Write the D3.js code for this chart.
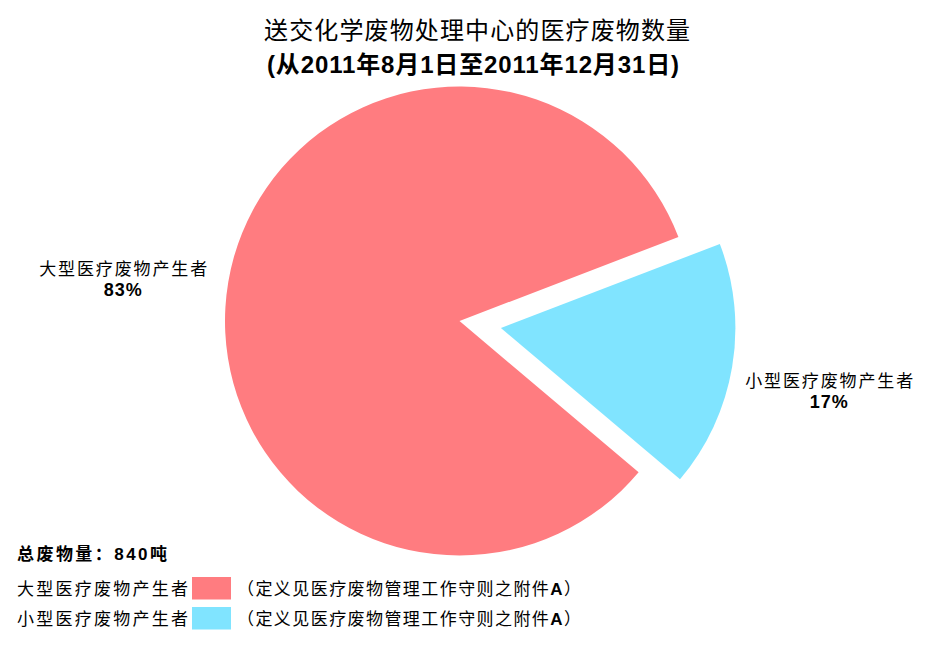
<!DOCTYPE html>
<html><head><meta charset="utf-8">
<script src="https://cdn.jsdelivr.net/npm/d3@7"></script>
<style>
html,body{margin:0;padding:0;background:#fff;}
svg{display:block;}
</style></head>
<body>
<script>
// ---- data ----
const categories = ["大型医疗废物产生者", "小型医疗废物产生者"];
const values = [83, 17];
const percentLabels = ["83%", "17%"];
const colors = ["#FF7C80", "#80E4FF"];
const titleLines = ["送交化学废物处理中心的医疗废物数量", "(从2011年8月1日至2011年12月31日)"];
const totalText = "总废物量：840吨";
const legendNote = ["（定义见医疗废物管理工作守则之附件", "A", "）"];
const explode = [0, 1];

const W = 938, H = 650;
const cx = 459.5, cy = 321, R = 234.5;
const explodeDist = 42;
const startDeg = 130.2;

const CJK = "'Noto Sans CJK SC', 'Noto Sans', sans-serif";
const LAT = "'Liberation Sans', 'Noto Sans CJK SC', sans-serif";

const svg = d3.select("body").append("svg").attr("width", W).attr("height", H);

// title
svg.append("text").attr("x", 477).attr("y", 39).attr("text-anchor", "middle")
  .attr("font-family", CJK).attr("font-size", 24).attr("fill", "#000")
  .attr("textLength", 426).attr("lengthAdjust", "spacing")
  .text(titleLines[0]);
svg.append("text").attr("x", 473).attr("y", 73).attr("text-anchor", "middle")
  .attr("font-family", LAT).attr("font-weight", "bold").attr("font-size", 24).attr("fill", "#000")
  .attr("textLength", 412).attr("lengthAdjust", "spacing")
  .text(titleLines[1]);

// pie
const a0 = startDeg * Math.PI / 180;
const pie = d3.pie().sort(null).value(d => d).startAngle(a0).endAngle(a0 + 2 * Math.PI);
const arcs = pie(values);
const arc = d3.arc().innerRadius(0).outerRadius(R);

const g = svg.append("g").attr("transform", `translate(${cx},${cy})`);
arcs.forEach((d, i) => {
  const mid = (d.startAngle + d.endAngle) / 2;
  const off = explode[i] ? explodeDist : 0;
  const ox = off * Math.sin(mid), oy = -off * Math.cos(mid);
  g.append("path").attr("d", arc(d)).attr("fill", colors[i])
    .attr("transform", `translate(${ox},${oy})`);
});

// labels
const labelR = 335;
const labelAdj = [[-6, 14], [-2, 7]];
arcs.forEach((d, i) => {
  const mid = (d.startAngle + d.endAngle) / 2;
  const off = explode[i] ? explodeDist : 0;
  const lx = (off + labelR) * Math.sin(mid) + labelAdj[i][0];
  const ly = -(off + labelR) * Math.cos(mid) + labelAdj[i][1];
  g.append("text").attr("x", lx).attr("y", ly - 4).attr("text-anchor", "middle")
    .attr("font-family", CJK).attr("font-size", 17).attr("fill", "#000")
    .attr("textLength", 168).attr("lengthAdjust", "spacing")
    .text(categories[i]);
  g.append("text").attr("x", lx).attr("y", ly + 17).attr("text-anchor", "middle")
    .attr("font-family", LAT).attr("font-weight", "bold").attr("font-size", 18).attr("fill", "#000")
    .attr("letter-spacing", 1)
    .text(percentLabels[i]);
});

// legend
svg.append("text").attr("x", 17).attr("y", 560)
  .attr("font-family", LAT).attr("font-weight", "bold").attr("font-size", 17).attr("fill", "#000")
  .attr("textLength", 150).attr("lengthAdjust", "spacing")
  .text(totalText);
const rowY = [577, 607];
categories.forEach((c, i) => {
  svg.append("text").attr("x", 17).attr("y", rowY[i] + 18)
    .attr("font-family", CJK).attr("font-size", 17).attr("fill", "#000")
    .attr("textLength", 171).attr("lengthAdjust", "spacing")
    .text(c);
  svg.append("rect").attr("x", 192).attr("y", rowY[i]).attr("width", 39).attr("height", 22.5)
    .attr("fill", colors[i]);
  const t = svg.append("text").attr("x", 237).attr("y", rowY[i] + 18)
    .attr("font-family", CJK).attr("font-size", 17).attr("fill", "#000")
    .attr("textLength", 344).attr("lengthAdjust", "spacing");
  t.append("tspan").text(legendNote[0]);
  t.append("tspan").attr("font-family", LAT).attr("font-weight", "bold").text(legendNote[1]);
  t.append("tspan").text(legendNote[2]);
});
</script>
</body></html>
